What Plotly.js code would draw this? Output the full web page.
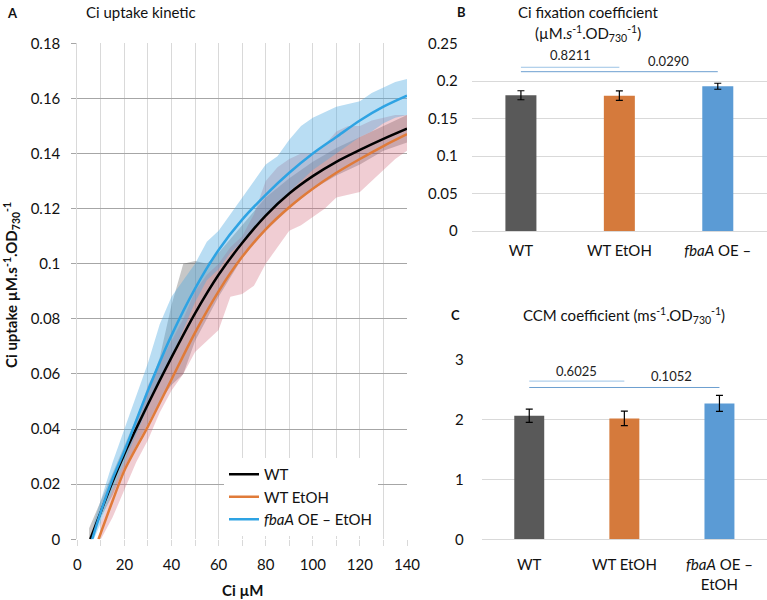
<!DOCTYPE html>
<html>
<head>
<meta charset="utf-8">
<script src="https://cdn.plot.ly/plotly-3.0.1.min.js"></script>
<style>
html,body{margin:0;padding:0;background:#fff;}
#chart{width:767px;height:600px;}
</style>
</head>
<body>
<div id="chart"></div>
<script>
// ---------- Panel A: Ci uptake kinetic ----------
const seriesNames = ['WT', 'WT EtOH', '<i>fbaA</i> OE – EtOH'];

// fitted curves
const fitX_WT   = [5.5, 10, 15, 20, 30, 40, 50, 60, 70, 80, 90, 100, 110, 120, 130, 140];
const fitY_WT   = [0, 0.01, 0.021, 0.031, 0.049, 0.066, 0.082, 0.096, 0.1075, 0.1175, 0.1255, 0.1318, 0.137, 0.1413, 0.1453, 0.149];
const fitX_EtOH = [9, 15, 20, 30, 40, 50, 60, 70, 80, 90, 100, 110, 120, 130, 140];
const fitY_EtOH = [0, 0.014, 0.025, 0.041, 0.058, 0.075, 0.09, 0.1025, 0.1125, 0.1205, 0.1272, 0.133, 0.138, 0.1427, 0.147];
const fitX_fbaA = [6.3, 10, 15, 20, 30, 40, 50, 60, 70, 80, 90, 100, 110, 120, 130, 140];
const fitY_fbaA = [0, 0.01, 0.022, 0.032, 0.054, 0.074, 0.091, 0.105, 0.116, 0.125, 0.133, 0.14, 0.146, 0.152, 0.157, 0.161];

// raw data spread (lower / upper)
const bandX_WT  = [5, 10, 15, 20, 25, 30, 35, 40, 45, 50, 55, 60, 70, 80, 90, 100, 110, 120, 130, 140];
const bandLo_WT = [0, 0.008, 0.016, 0.026, 0.034, 0.042, 0.05, 0.056, 0.06, 0.072, 0.08, 0.088, 0.102, 0.112, 0.12, 0.127, 0.132, 0.136, 0.141, 0.144];
const bandHi_WT = [0.004, 0.014, 0.024, 0.034, 0.044, 0.054, 0.066, 0.085, 0.1, 0.101, 0.1, 0.104, 0.114, 0.124, 0.131, 0.137, 0.142, 0.146, 0.15, 0.154];

const bandX_EtOH  = [10, 15, 20, 25, 30, 35, 40, 45, 50, 55, 60, 65, 70, 75, 80, 85, 90, 95, 100, 105, 110, 115, 120, 125, 130, 135, 140];
const bandLo_EtOH = [0, 0.008, 0.018, 0.028, 0.036, 0.046, 0.054, 0.06, 0.068, 0.072, 0.076, 0.088, 0.089, 0.092, 0.1, 0.106, 0.112, 0.114, 0.117, 0.12, 0.124, 0.125, 0.126, 0.13, 0.134, 0.138, 0.141];
const bandHi_EtOH = [0.006, 0.018, 0.028, 0.042, 0.056, 0.064, 0.072, 0.08, 0.09, 0.096, 0.1, 0.106, 0.11, 0.118, 0.13, 0.135, 0.138, 0.14, 0.14, 0.143, 0.148, 0.15, 0.15, 0.152, 0.153, 0.154, 0.154];

const bandX_fbaA  = [7, 10, 15, 20, 25, 30, 35, 40, 45, 50, 55, 60, 65, 70, 75, 80, 85, 90, 95, 100, 105, 110, 115, 120, 125, 130, 135, 140];
const bandLo_fbaA = [0, 0.006, 0.018, 0.028, 0.038, 0.048, 0.058, 0.066, 0.076, 0.086, 0.094, 0.098, 0.104, 0.108, 0.113, 0.118, 0.121, 0.126, 0.13, 0.134, 0.137, 0.14, 0.143, 0.146, 0.148, 0.151, 0.153, 0.154];
const bandHi_fbaA = [0.006, 0.014, 0.028, 0.04, 0.052, 0.064, 0.078, 0.088, 0.094, 0.1, 0.108, 0.112, 0.118, 0.124, 0.13, 0.136, 0.139, 0.145, 0.15, 0.153, 0.155, 0.157, 0.158, 0.159, 0.162, 0.164, 0.166, 0.167];

// ---------- Panels B and C ----------
const barCats = ['WT', 'WT EtOH', '<i>fbaA</i> OE –'];
const barCatsC = ['WT', 'WT EtOH', '<i>fbaA</i> OE –<br>EtOH'];
const fixVals = [0.181, 0.1805, 0.193];
const fixErr  = [0.006, 0.0062, 0.004];
const ccmVals = [2.067, 2.023, 2.274];
const ccmErr  = [0.11, 0.12, 0.134];
const barColors = ['#595959', '#d57a3c', '#5b9bd5'];

// p-value comparisons
const pFrom = [0, 0];
const pTo = [1, 2];
const pB_lineY = [0.2183, 0.2124];
const pB_text = ['0.8211', '0.0290'];
const pB_textX = [0.5, 1.5];
const pB_textY = [0.2347, 0.2267];
const pC_lineY = [2.647, 2.54];
const pC_text = ['0.6025', '0.1052'];
const pC_textX = [0.5, 1.5];
const pC_textY = [2.814, 2.73];

const FONT = 'Lato, "Open Sans", sans-serif';
const traces = [];

function band(x, lo, hi, color) {
  traces.push({x: x, y: lo, type: 'scatter', mode: 'lines', line: {width: 0, color: color},
    showlegend: false, hoverinfo: 'skip', xaxis: 'x', yaxis: 'y'});
  traces.push({x: x, y: hi, type: 'scatter', mode: 'lines', line: {width: 0, color: color},
    fill: 'tonexty', fillcolor: color, showlegend: false, hoverinfo: 'skip', xaxis: 'x', yaxis: 'y'});
}
band(bandX_WT, bandLo_WT, bandHi_WT, 'rgba(70,70,70,0.30)');
band(bandX_EtOH, bandLo_EtOH, bandHi_EtOH, 'rgba(205,90,110,0.30)');
band(bandX_fbaA, bandLo_fbaA, bandHi_fbaA, 'rgba(80,170,225,0.40)');

const fitSets = [[fitX_WT, fitY_WT, '#000000'], [fitX_EtOH, fitY_EtOH, '#e07b39'], [fitX_fbaA, fitY_fbaA, '#2ea3e3']];
fitSets.forEach((s, i) => {
  traces.push({x: s[0], y: s[1], type: 'scatter', mode: 'lines', name: seriesNames[i],
    line: {color: s[2], width: 2.5, shape: 'spline', smoothing: 0.8}, xaxis: 'x', yaxis: 'y'});
});

traces.push({x: barCats, y: fixVals, type: 'bar', xaxis: 'x2', yaxis: 'y2', showlegend: false,
  marker: {color: barColors},
  error_y: {type: 'data', array: fixErr, color: '#000', thickness: 1.2, width: 3.5}});
traces.push({x: barCatsC, y: ccmVals, type: 'bar', xaxis: 'x3', yaxis: 'y3', showlegend: false,
  marker: {color: barColors},
  error_y: {type: 'data', array: ccmErr, color: '#000', thickness: 1.2, width: 3.5}});

const W = 767, H = 600;
const px = v => v / W, py = v => 1 - v / H;

const shapes = [];
const annotations = [];
const pColors = ['#9dc3e6', '#6d9fd0'];
for (let i = 0; i < 2; i++) {
  shapes.push({type: 'line', xref: 'x2', yref: 'y2', x0: pFrom[i], x1: pTo[i], y0: pB_lineY[i], y1: pB_lineY[i],
    line: {color: pColors[i], width: 1}});
  shapes.push({type: 'line', xref: 'x3', yref: 'y3', x0: pFrom[i], x1: pTo[i], y0: pC_lineY[i], y1: pC_lineY[i],
    line: {color: pColors[i], width: 1}});
  annotations.push({xref: 'x2', yref: 'y2', x: pB_textX[i], y: pB_textY[i], text: pB_text[i], showarrow: false,
    font: {family: FONT, size: 13, color: '#222'}});
  annotations.push({xref: 'x3', yref: 'y3', x: pC_textX[i], y: pC_textY[i], text: pC_text[i], showarrow: false,
    font: {family: FONT, size: 13, color: '#222'}});
}

function ann(x, y, text, size, opts) {
  annotations.push(Object.assign({xref: 'paper', yref: 'paper', x: px(x), y: py(y), text: text, showarrow: false,
    xanchor: 'center', yanchor: 'middle', font: {family: FONT, size: size, color: '#111'}}, opts || {}));
}
ann(12, 13, '<b>A</b>', 13);
ann(141, 12, 'Ci uptake kinetic', 15);
ann(461, 12, '<b>B</b>', 13);
ann(588, 12, 'Ci fixation coefficient', 15);
ann(588, 33, '(µM.<i>s</i><sup>-1</sup>.OD<sub>730</sub><sup>-1</sup>)', 15);
ann(455, 315, '<b>C</b>', 13);
ann(624, 315, 'CCM coefficient (ms<sup>-1</sup>.OD<sub>730</sub><sup>-1</sup>)', 15);
ann(243, 590, '<b>Ci µM</b>', 15);
ann(11, 285, '<b>Ci uptake µM.s<sup>-1</sup>.OD<sub>730</sub><sup>-1</sup></b>', 15, {textangle: -90});

const tickFont = {family: FONT, size: 15, color: '#111'};

const layout = {
  width: W, height: H,
  margin: {l: 0, r: 0, t: 0, b: 0},
  paper_bgcolor: '#fff', plot_bgcolor: 'rgba(0,0,0,0)',
  font: {family: FONT, color: '#111'},
  showlegend: true,
  bargap: 0.685,
  legend: {x: px(224), y: py(458), xanchor: 'left', yanchor: 'top', bgcolor: '#ffffff',
    traceorder: 'normal',
    font: {family: FONT, size: 15, color: '#111'}, itemwidth: 30, tracegroupgap: 0},
  xaxis: {domain: [px(77.3), px(407)], range: [0, 140], dtick: 20, tick0: 0,
    showgrid: true, gridcolor: '#d9d9d9', gridwidth: 1, zeroline: false,
    showline: false, ticks: 'outside', ticklen: 6, tickcolor: '#d9d9d9',
    minor: {dtick: 10, showgrid: true, gridcolor: '#d9d9d9', ticks: 'outside', ticklen: 6, tickcolor: '#d9d9d9'},
    tickfont: tickFont, ticklabelstandoff: 6, anchor: 'y'},
  yaxis: {domain: [py(539.3), py(43.3)], range: [0, 0.18], dtick: 0.02,
    showgrid: true, gridcolor: '#a6a6a6', gridwidth: 1, zeroline: false,
    showline: true, linecolor: '#d9d9d9', ticks: 'outside', ticklen: 5, tickcolor: '#a6a6a6',
    tickfont: tickFont, ticklabelstandoff: 8, anchor: 'x'},
  xaxis2: {domain: [px(471.7), 1], range: [-0.5, 2.5], type: 'category', anchor: 'y2',
    showgrid: false, showline: true, linecolor: '#d9d9d9', ticks: '', tickfont: tickFont, ticklabelstandoff: 6},
  yaxis2: {domain: [py(231), py(43.5)], range: [0, 0.25], dtick: 0.05, anchor: 'x2',
    showgrid: true, gridcolor: '#d9d9d9', zeroline: false, showline: false, ticks: '',
    tickfont: tickFont, ticklabelstandoff: 13},
  xaxis3: {domain: [px(481.7), 1], range: [-0.5, 2.5], type: 'category', anchor: 'y3',
    showgrid: false, showline: true, linecolor: '#d9d9d9', ticks: '', tickfont: tickFont, ticklabelstandoff: 12},
  yaxis3: {domain: [py(539.3), py(360)], range: [0, 3], dtick: 1, anchor: 'x3',
    showgrid: true, gridcolor: '#d9d9d9', zeroline: false, showline: false, ticks: '',
    tickfont: tickFont, ticklabelstandoff: 17},
  shapes: shapes,
  annotations: annotations
};

Plotly.newPlot('chart', traces, layout, {displayModeBar: false, staticPlot: true});
</script>
</body>
</html>
